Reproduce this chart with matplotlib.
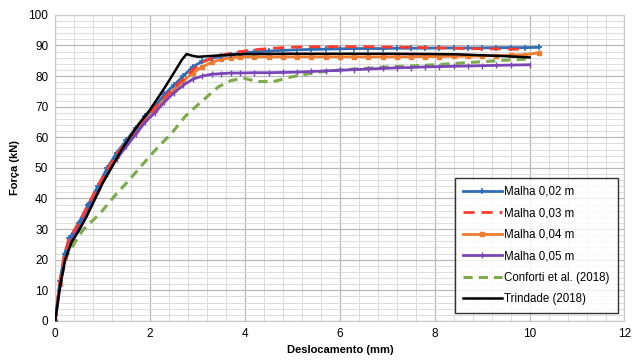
import matplotlib
matplotlib.use("Agg")
import matplotlib.pyplot as plt
from matplotlib.ticker import MultipleLocator

plt.rcParams['font.family'] = ['Liberation Sans', 'DejaVu Sans']

# Malha 0,02 m / 0,03 m / 0,04 m share the same displacement steps
x_mesh = [0, 0.1, 0.2, 0.3, 0.5, 0.7, 0.9, 1.1, 1.3, 1.5, 1.7, 1.9, 2.1, 2.3, 2.5,
          2.7, 2.9, 3.1, 3.3, 3.5, 3.7, 3.9, 4.2, 4.5, 4.8, 5.1, 5.4, 5.7, 6.0,
          6.3, 6.6, 6.9, 7.2, 7.5, 7.8, 8.1, 8.4, 8.7, 9.0, 9.3, 9.6, 9.9, 10.2]
f_002 = [0, 13, 22, 27, 32, 38, 44, 50, 55, 59, 63, 67, 70, 74, 77,
         80, 83, 84.8, 85.8, 86.5, 87, 87.5, 87.9, 88.2, 88.4, 88.6, 88.7, 88.8, 88.9,
         89, 89, 89, 89.1, 89.1, 89.1, 89.2, 89.2, 89.2, 89.2, 89.3, 89.3, 89.3, 89.4]
f_003 = [0, 13, 22, 27, 32, 38, 44, 49.5, 54.5, 58.5, 62.5, 66.5, 69.5, 73, 76,
         79, 82, 84.5, 85.8, 86.8, 87.5, 88, 88.6, 89, 89.3, 89.5, 89.6, 89.6, 89.6,
         89.6, 89.6, 89.5, 89.5, 89.4, 89.3, 89.2, 89.1, 89.0, 88.9, 88.9, 88.8, 88.8, 88.7]
f_004 = [0, 12, 21, 26, 32, 38, 43.5, 49, 54, 58, 62, 66, 69, 72.5, 75.5,
         78.5, 81, 83, 84.5, 85.5, 86, 86.2, 86.3, 86.3, 86.3, 86.3, 86.3, 86.3, 86.3,
         86.3, 86.3, 86.3, 86.3, 86.3, 86.4, 86.4, 86.5, 86.5, 86.6, 86.7, 86.8, 87.0, 87.6]

x_005 = [0, 0.1, 0.2, 0.3, 0.5, 0.7, 0.9, 1.1, 1.3, 1.5, 1.7, 1.9, 2.1, 2.3, 2.5,
         2.7, 2.9, 3.1, 3.3, 3.5, 3.7, 3.9, 4.2, 4.5, 4.8, 5.1, 5.4, 5.7, 6.0,
         6.3, 6.6, 6.9, 7.2, 7.5, 7.8, 8.1, 8.4, 8.7, 9.0, 9.3, 9.6, 10.0]
f_005 = [0, 11, 20, 25, 31, 37, 42.5, 48, 53, 57, 61, 65, 68, 71.5, 74.5,
         77, 79, 80, 80.6, 80.8, 81, 81, 81.1, 81.1, 81.2, 81.3, 81.5, 81.7, 81.9,
         82.1, 82.3, 82.5, 82.7, 82.8, 83, 83.1, 83.2, 83.3, 83.4, 83.5, 83.6, 83.7]

x_conforti = [0, 0.1, 0.24, 0.45, 0.6, 0.94, 1.29, 1.5, 1.92, 2.12, 2.46, 2.75, 3.0,
              3.44, 3.7, 3.85, 4.0, 4.27, 4.6, 5.0, 5.5, 6, 6.5, 7, 7.5, 8, 8.5, 9, 9.5, 10.0]
f_conforti = [0, 12, 21, 26.5, 30, 35, 41.5, 45, 52.5, 56, 61.4, 67, 70.5,
              76.5, 78.5, 79, 79.2, 78.2, 78.2, 79.8, 81.2, 82, 82.5, 83, 83.3, 83.7,
              84.2, 84.7, 85.2, 85.6]

x_trindade = [0, 0.1, 0.21, 0.35, 0.5, 0.66, 1.0, 1.4, 1.7, 2.0, 2.3, 2.5, 2.67, 2.77,
              2.9, 3.02, 3.3, 3.6, 4.0, 5, 6, 7, 8, 8.5, 9, 9.5, 10.0]
f_trindade = [0, 11, 20, 25.8, 29.5, 34, 45, 55.9, 63, 69, 76, 81, 85.3, 87.2,
              86.6, 86.3, 86.6, 86.9, 87.2, 87.3, 87.3, 87.3, 87.2, 87.1, 86.8, 86.5, 86.1]

fig = plt.figure(figsize=(6.34, 3.63), dpi=100)
ax = fig.add_axes([0.087, 0.116, 0.898, 0.843])

ax.plot(x_mesh, f_002, color='#2F6EB5', lw=2, marker='+', ms=5, mew=1.2,
        label='Malha 0,02 m', zorder=4)
ax.plot(x_mesh[:-1], f_003[:-1], color='#FF3B2F', lw=2, ls=(0, (4, 2.5)),
        label='Malha 0,03 m', zorder=5)
ax.plot(x_mesh, f_004, color='#ED7D31', lw=2, marker='s', ms=3.5,
        label='Malha 0,04 m', zorder=3)
ax.plot(x_005, f_005, color='#7A45B8', lw=2, marker='|', ms=5, mew=1,
        label='Malha 0,05 m', zorder=3)
ax.plot(x_conforti, f_conforti, color='#7DAA4A', lw=2.2, ls=(0, (3, 2)),
        label='Conforti et al. (2018)', zorder=2)
ax.plot(x_trindade, f_trindade, color='black', lw=1.8,
        label='Trindade (2018)', zorder=6)

ax.set_xlim(0, 12)
ax.set_ylim(0, 100)
ax.xaxis.set_major_locator(MultipleLocator(2))
ax.xaxis.set_minor_locator(MultipleLocator(0.4))
ax.yaxis.set_major_locator(MultipleLocator(10))
ax.yaxis.set_minor_locator(MultipleLocator(2))
ax.grid(which='major', color='#b8b8b8', lw=0.9)
ax.grid(which='minor', color='#dcdcdc', lw=0.7)
ax.set_axisbelow(True)
ax.tick_params(which='both', length=0, labelsize=8.5, pad=5)
for s in ax.spines.values():
    s.set_color('#c8c8c8')

ax.set_xlabel('Deslocamento (mm)', fontsize=8, fontweight='bold', labelpad=4)
ax.set_ylabel('Força (kN)', fontsize=8, fontweight='bold', labelpad=6)

leg = ax.legend(loc='lower right', bbox_to_anchor=(0.998, 0.006), fontsize=8.3,
                frameon=True, fancybox=False, edgecolor='black', handlelength=3.4,
                labelspacing=0.82, borderpad=0.7, handletextpad=0.2)
leg.get_frame().set_linewidth(1.0)

fig.savefig('out.png', dpi=100)
